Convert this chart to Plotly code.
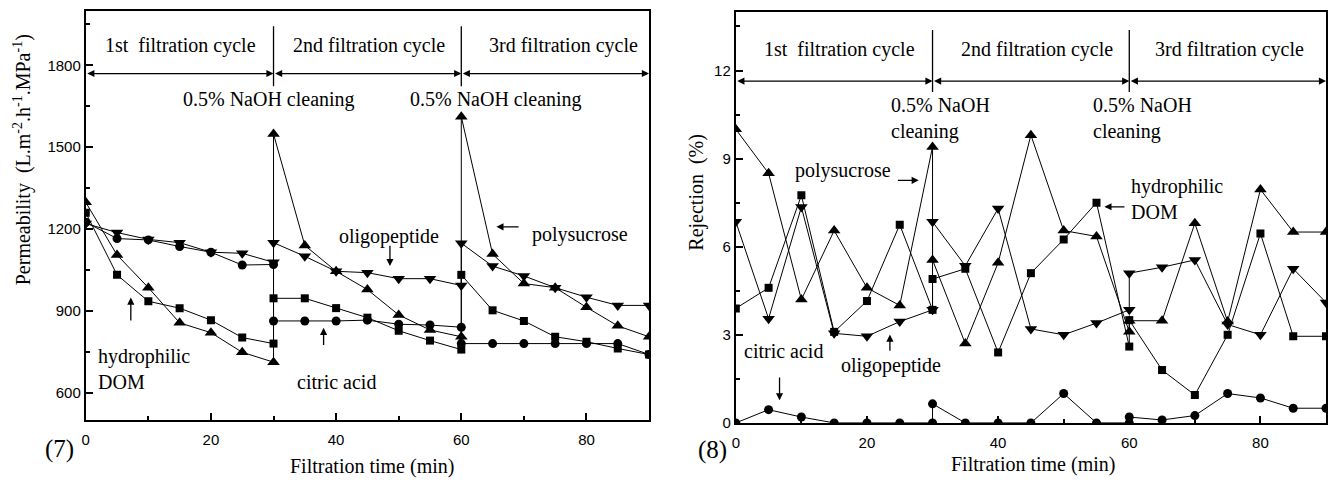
import plotly.graph_objects as go

# ---------------- data ----------------
time = [0, 5, 10, 15, 20, 25, 30, 30, 35, 40, 45, 50, 55, 60, 60, 65, 70, 75, 80, 85, 90]

# Panel (7): permeability
perm_polysucrose = [1298, 1105, 985, 856, 820, 748, 712, 1548, 1140, 1045, 978, 885, 830, 805, 1612, 1108, 1000, 985, 913, 845, 805]
perm_oligopeptide = [1220, 1187, 1162, 1150, 1115, 1111, 1078, 1150, 1100, 1045, 1040, 1018, 1018, 993, 1148, 1064, 1028, 985, 950, 920, 920]
perm_citric = [1225, 1165, 1160, 1136, 1115, 1068, 1070, 863, 863, 863, 866, 851, 848, 840, 780, 780, 780, 780, 780, 780, 740]
perm_hydrophilic = [1260, 1032, 935, 910, 866, 802, 780, 946, 946, 910, 875, 827, 791, 758, 1032, 902, 863, 805, 787, 762, 740]

# Panel (8): rejection
rej_polysucrose = [10.0, 8.5, 4.2, 6.55, 4.6, 4.0, 9.4, 5.55, 2.7, 5.45, 9.8, 6.55, 6.35, 3.1, 3.48, 3.48, 6.8, 3.45, 7.95, 6.5, 6.5]
rej_oligopeptide = [6.85, 3.55, 7.35, 3.05, 2.95, 3.45, 3.85, 6.85, 5.35, 7.3, 3.2, 3.0, 3.4, 3.85, 5.1, 5.3, 5.55, 3.35, 3.0, 5.25, 4.1]
rej_citric = [0, 0.45, 0.2, 0, 0, 0, 0, 0.65, 0, 0, 0, 1.0, 0, 0, 0.2, 0.1, 0.25, 1.0, 0.85, 0.5, 0.5]
rej_hydrophilic = [3.9, 4.6, 7.75, 3.1, 4.15, 6.75, 3.85, 4.9, 5.25, 2.4, 5.1, 6.25, 7.5, 2.6, 3.5, 1.8, 0.95, 3.0, 6.45, 2.95, 2.95]

x_ticks = [0, 20, 40, 60, 80]
perm_ticks = [600, 900, 1200, 1500, 1800]
rej_ticks = [0, 3, 6, 9, 12]
cycle_labels = ["1st\u00a0 filtration cycle", "2nd filtration cycle", "3rd filtration cycle"]

W, H = 1333, 485
SERIF = "Liberation Serif"
SANS = "Liberation Sans"

fig = go.Figure()

series_style = [
    ("triangle-up", 11),
    ("triangle-down", 11),
    ("circle", 9),
    ("square", 8),
]

for vals, (sym, sz) in zip([perm_polysucrose, perm_oligopeptide, perm_citric, perm_hydrophilic], series_style):
    fig.add_trace(go.Scatter(x=time, y=vals, mode="lines+markers", xaxis="x", yaxis="y",
                             line=dict(color="black", width=1),
                             marker=dict(symbol=sym, size=sz, color="black"), showlegend=False))
for vals, (sym, sz) in zip([rej_polysucrose, rej_oligopeptide, rej_citric, rej_hydrophilic], series_style):
    fig.add_trace(go.Scatter(x=time, y=vals, mode="lines+markers", xaxis="x2", yaxis="y2",
                             line=dict(color="black", width=1),
                             marker=dict(symbol=sym, size=sz, color="black"), showlegend=False))

def px2paper(px, py):
    return px / W, 1 - py / H

axis_common = dict(showline=True, linecolor="black", linewidth=2, mirror=True,
                   ticks="inside", ticklen=7, tickwidth=1.5, tickcolor="black",
                   showgrid=False, zeroline=False,
                   tickfont=dict(family=SANS, size=15, color="black"))

fig.update_layout(
    width=W, height=H, margin=dict(l=0, r=0, t=0, b=0),
    paper_bgcolor="white", plot_bgcolor="white",
    xaxis=dict(domain=[82 / W, 647 / W], range=[0, 90], tickvals=x_ticks, anchor="y", ticklabelstandoff=5,
               minor=dict(dtick=10, tick0=0, ticks="inside", ticklen=4, tickcolor="black"), **axis_common),
    yaxis=dict(domain=[1 - 427 / H, 1 - 11 / H], range=[500, 2000], tickvals=perm_ticks, anchor="x",
               minor=dict(dtick=150, tick0=0, ticks="inside", ticklen=4, tickcolor="black"), **axis_common),
    xaxis2=dict(domain=[734 / W, 1326 / W], range=[0, 90], tickvals=x_ticks, anchor="y2", ticklabelstandoff=5,
                minor=dict(dtick=10, tick0=0, ticks="inside", ticklen=4, tickcolor="black"), **axis_common),
    yaxis2=dict(domain=[1 - 430 / H, 1 - 12 / H], range=[0, 14], tickvals=rej_ticks, anchor="x2",
                minor=dict(dtick=1.5, tick0=0, ticks="inside", ticklen=4, tickcolor="black"), **axis_common),
)

ann = []
shapes = []

def text(xref, yref, x, y, s, xanchor="center", size=20, angle=0, align="center"):
    ann.append(dict(xref=xref, yref=yref, x=x, y=y, text=s, showarrow=False, xanchor=xanchor,
                    yanchor="middle", align=align, textangle=angle,
                    font=dict(family=SERIF, size=size, color="black")))

def arrow(xr, yr, x0, y0, x1, y1, double=False):
    d = dict(xref=xr, yref=yr, axref=xr, ayref=yr, x=x1, y=y1, ax=x0, ay=y0, text="",
             showarrow=True, arrowhead=2, arrowsize=1.1, arrowwidth=1.3, arrowcolor="black",
             standoff=0, startstandoff=0)
    if double:
        d.update(arrowside="end+start", startarrowhead=2, startarrowsize=1.1)
    ann.append(d)

# ---- panel (7) decorations ----
for a, b in [(0, 30), (30, 60), (60, 90)]:
    arrow("x", "y", a, 1770, b, 1770, double=True)
for xv in [30, 60]:
    shapes.append(dict(type="line", xref="x", yref="y", x0=xv, x1=xv, y0=1723, y1=1943,
                       line=dict(color="black", width=1.3)))
text("x", "y", 15.1, 1874, cycle_labels[0])
text("x", "y", 45.3, 1874, cycle_labels[1])
text("x", "y", 76.4, 1874, cycle_labels[2])
text("x", "y", 29.3, 1676, "0.5% NaOH cleaning")
text("x", "y", 65.6, 1676, "0.5% NaOH cleaning")
text("x", "y", 48.5, 1172, "oligopeptide")
arrow("x", "y", 48.6, 1144, 48.6, 1064)
text("x", "y", 79.0, 1180, "polysucrose")
arrow("x", "y", 69.4, 1208, 65.6, 1208)
text("x", "y", 1.6, 685, "hydrophilic<br>DOM", xanchor="left", align="left")
arrow("x", "y", 7.2, 859, 7.2, 949)
text("x", "y", 40.0, 640, "citric acid")
arrow("x", "y", 38.0, 769, 38.0, 838)

# ---- panel (8) decorations ----
for a, b in [(0, 30), (30, 60), (60, 90)]:
    arrow("x2", "y2", a, 11.64, b, 11.64, double=True)
for xv in [30, 60]:
    shapes.append(dict(type="line", xref="x2", yref="y2", x0=xv, x1=xv, y0=11.27, y1=13.38,
                       line=dict(color="black", width=1.3)))
text("x2", "y2", 15.8, 12.71, cycle_labels[0])
text("x2", "y2", 46.0, 12.71, cycle_labels[1])
text("x2", "y2", 75.3, 12.71, cycle_labels[2])
text("x2", "y2", 23.3, 10.38, "0.5% NaOH<br>cleaning", xanchor="left", align="left")
text("x2", "y2", 54.1, 10.38, "0.5% NaOH<br>cleaning", xanchor="left", align="left")
text("x2", "y2", 16.4, 8.6, "polysucrose")
arrow("x2", "y2", 24.5, 8.26, 27.9, 8.26)
text("x2", "y2", 60.0, 7.61, "hydrophilic<br>DOM", xanchor="left", align="left")
arrow("x2", "y2", 59.5, 7.36, 56.2, 7.36)
text("x2", "y2", 7.2, 2.44, "citric acid")
arrow("x2", "y2", 6.67, 1.6, 6.67, 0.77)
text("x2", "y2", 23.6, 1.94, "oligopeptide")
arrow("x2", "y2", 23.5, 2.41, 23.5, 3.01)

# ---- titles / panel labels ----
px, py = px2paper(369, 474)
text("paper", "paper", px, py, "Filtration time (min)")
px, py = px2paper(1032, 472)
text("paper", "paper", px, py, "Filtration time (min)")
px, py = px2paper(18, 162)
text("paper", "paper", px, py, "Permeability\u00a0 (L.m<sup>-2</sup>.h<sup>-1</sup>.MPa<sup>-1</sup>)", angle=-90)
px, py = px2paper(695, 195)
text("paper", "paper", px, py, "Rejection\u00a0 (%)", angle=-90)
px, py = px2paper(56, 457)
text("paper", "paper", px, py, "(7)", size=25)
px, py = px2paper(711, 458)
text("paper", "paper", px, py, "(8)", size=25)

fig.update_layout(annotations=ann, shapes=shapes)
fig.write_html("out.html")
